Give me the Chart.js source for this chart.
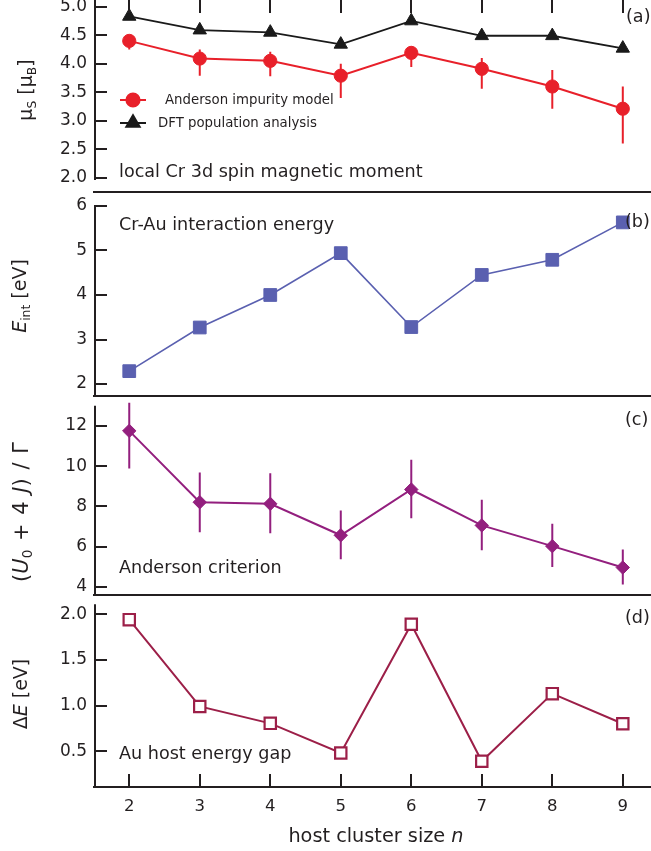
<!DOCTYPE html>
<html>
<head>
<meta charset="utf-8">
<script src="https://cdn.jsdelivr.net/npm/chart.js@4.4.1/dist/chart.umd.min.js"></script>
<style>
    body { margin: 0; width: 651px; height: 851px; background: #fff; position: relative; overflow: hidden;
           font-family: "DejaVu Sans", sans-serif; color: #231f20; }
    canvas { position: absolute; left: 0; }
    .t { position: absolute; white-space: nowrap; line-height: 1; transform: translateY(-50%); }
    .note { font-size: 17.6px; }
    .leg { font-size: 13.3px; }
    .ytitle { position: absolute; white-space: nowrap; line-height: 1; font-size: 19px;
              transform: translate(-50%, -50%) rotate(-90deg); }
    sub { font-size: 0.65em; vertical-align: -0.3em; }
</style>
</head>
<body>
<canvas id="panelA" width="651" height="232" style="top:-20px"></canvas>
<canvas id="panelB" width="651" height="243" style="top:173px"></canvas>
<canvas id="panelC" width="651" height="238" style="top:377px"></canvas>
<canvas id="panelD" width="651" height="251" style="top:576px"></canvas>

<div class="ytitle" style="left:27px; top:90px">μ<sub>S</sub> [μ<sub>B</sub>]</div>
<div class="ytitle" style="left:21px; top:296px"><i>E</i><sub>int</sub> [eV]</div>
<div class="ytitle" style="left:23px; top:512px; font-size:21px; word-spacing:2px">(<i>U</i><sub>0</sub> + 4 <i>J</i>) / Γ</div>
<div class="ytitle" style="left:20px; top:694px">Δ<i>E</i> [eV]</div>

<div class="t note" style="left:119px; top:172px">local Cr 3d spin magnetic moment</div>
<div class="t note" style="left:119px; top:225px">Cr-Au interaction energy</div>
<div class="t note" style="left:119px; top:568px">Anderson criterion</div>
<div class="t note" style="left:119px; top:754px">Au host energy gap</div>

<div class="t note" style="left:626px; top:17px">(a)</div>
<div class="t note" style="left:625px; top:222px">(b)</div>
<div class="t note" style="left:625px; top:420px">(c)</div>
<div class="t note" style="left:625px; top:618px">(d)</div>

<div class="t leg" style="left:165px; top:100px">Anderson impurity model</div>
<div class="t leg" style="left:158px; top:123px">DFT population analysis</div>

<div class="t" style="left:376px; top:836px; font-size:19.3px; transform:translate(-50%,-50%)">host cluster size <i>n</i></div>

<script>
// host cluster size n
const clusterSize = [2, 3, 4, 5, 6, 7, 8, 9];

// (a) local Cr 3d spin magnetic moment
const muAnderson     = [4.40, 4.09, 4.05, 3.79, 4.19, 3.91, 3.60, 3.21];
const muAndersonLow  = [4.25, 3.79, 3.78, 3.40, 3.94, 3.56, 3.21, 2.60];
const muAndersonHigh = [4.50, 4.25, 4.21, 4.00, 4.30, 4.10, 3.89, 3.60];
const muDFT          = [4.83, 4.59, 4.55, 4.34, 4.75, 4.49, 4.49, 4.27];

// (b) Cr-Au interaction energy
const eInt = [2.29, 3.27, 4.00, 4.94, 3.28, 4.45, 4.79, 5.63];

// (c) Anderson criterion
const criterion     = [11.75, 8.21, 8.13, 6.57, 8.84, 7.06, 6.03, 4.97];
const criterionLow  = [9.88, 6.72, 6.67, 5.38, 7.42, 5.83, 5.00, 4.13];
const criterionHigh = [13.15, 9.68, 9.65, 7.80, 10.32, 8.33, 7.14, 5.86];

// (d) Au host energy gap
const gap = [1.94, 0.99, 0.805, 0.48, 1.89, 0.39, 1.13, 0.80];

// tick labels
const ticksA = [2.0, 2.5, 3.0, 3.5, 4.0, 4.5, 5.0];
const ticksB = [2, 3, 4, 5, 6];
const ticksC = [4, 6, 8, 10, 12];
const ticksD = [0.5, 1.0, 1.5, 2.0];

const axisColor = '#231f20';
Chart.defaults.font.family = '"DejaVu Sans", sans-serif';
Chart.defaults.color = axisColor;

function pts(ys) {
    return clusterSize.map((n, i) => ({ x: n, y: ys[i] }));
}

// inward ticks, y-axis line, error bars and the legend of panel (a)
const framePlugin = {
    id: 'frame',
    beforeDatasetsDraw(chart, args, opts) {
        const ctx = chart.ctx;
        const xs = chart.scales.x, ys = chart.scales.y;
        chart.data.datasets.forEach(ds => {
            if (!ds.errLow) return;
            ctx.save();
            ctx.strokeStyle = ds.borderColor;
            ctx.lineWidth = 2;
            ctx.beginPath();
            clusterSize.forEach((n, i) => {
                const px = xs.getPixelForValue(n);
                ctx.moveTo(px, ys.getPixelForValue(ds.errLow[i]));
                ctx.lineTo(px, ys.getPixelForValue(ds.errHigh[i]));
            });
            ctx.stroke();
            ctx.restore();
        });
    },
    afterDraw(chart, args, opts) {
        const ctx = chart.ctx, area = chart.chartArea;
        const xs = chart.scales.x, ys = chart.scales.y;
        ctx.save();
        ctx.strokeStyle = axisColor;
        ctx.lineWidth = 2;
        ctx.beginPath();
        ctx.moveTo(area.left + 1, ys.getPixelForValue(opts.yFrom));
        ctx.lineTo(area.left + 1, ys.getPixelForValue(opts.yTo));
        ys.ticks.forEach(t => {
            const py = Math.round(ys.getPixelForValue(t.value));
            ctx.moveTo(area.left, py);
            ctx.lineTo(area.left + 13, py);
        });
        if (opts.topTicks || opts.bottomTicks) {
            clusterSize.forEach(n => {
                const px = Math.round(xs.getPixelForValue(n));
                if (opts.topTicks) {
                    ctx.moveTo(px, area.top);
                    ctx.lineTo(px, area.top + 13);
                }
                if (opts.bottomTicks) {
                    ctx.moveTo(px, area.bottom);
                    ctx.lineTo(px, area.bottom - 13);
                }
            });
        }
        ctx.stroke();
        if (opts.legend) {
            // legend rows, y measured from the chart area top
            opts.legend.forEach(item => {
                const ly = area.top + item.y;
                ctx.strokeStyle = item.color;
                ctx.fillStyle = item.color;
                ctx.lineWidth = 2;
                ctx.beginPath();
                ctx.moveTo(120, ly);
                ctx.lineTo(146, ly);
                ctx.stroke();
                Chart.helpers.drawPoint(ctx, { pointStyle: item.style, radius: item.radius, rotation: 0, borderWidth: 1 }, 133, ly);
            });
        }
        ctx.restore();
    }
};

// chart area always starts 20px below the canvas top
function makePanel(id, yMin, yMax, yTicks, digits, datasets, frame, xLabels, xHeight) {
    new Chart(document.getElementById(id), {
        type: 'line',
        data: { datasets: datasets },
        options: {
            responsive: false,
            animation: false,
            layout: { autoPadding: false, padding: { top: 20, left: 0, right: 0, bottom: 0 } },
            plugins: { legend: { display: false }, tooltip: { enabled: false }, frame: frame },
            scales: {
                x: {
                    type: 'linear', min: 1.5, max: 9.4,
                    afterBuildTicks: s => { s.ticks = clusterSize.map(v => ({ value: v })); },
                    afterFit: s => { s.height = xHeight; },
                    grid: { display: false, drawTicks: false },
                    border: { display: true, width: 2, color: axisColor },
                    ticks: { display: xLabels, padding: 10, font: { size: 16.5 } }
                },
                y: {
                    min: yMin, max: yMax,
                    afterBuildTicks: s => { s.ticks = yTicks.map(v => ({ value: v })); },
                    afterFit: s => { s.width = 94; },
                    grid: { display: false, drawTicks: false },
                    border: { display: false },
                    ticks: { padding: 7, font: { size: 17 }, callback: v => v.toFixed(digits) }
                }
            }
        },
        plugins: [framePlugin]
    });
}

const red = '#e8202a', black = '#1a1a1a', blue = '#5a60b0', purple = '#931f7e', crimson = '#9c1f48';

makePanel('panelA', 1.749, 5.1175, ticksA, 1, [
    { data: pts(muDFT), borderColor: black, backgroundColor: black, borderWidth: 1.8,
      pointStyle: 'triangle', pointRadius: 7.7, pointBorderWidth: 1 },
    { data: pts(muAnderson), errLow: muAndersonLow, errHigh: muAndersonHigh,
      borderColor: red, backgroundColor: red, borderWidth: 2,
      pointStyle: 'circle', pointRadius: 6.6, pointBorderWidth: 1 }
], { yFrom: 5.2, yTo: 1.96, topTicks: true,
     legend: [ { y: 100, color: red, style: 'circle', radius: 6.6 },
               { y: 123, color: black, style: 'triangle', radius: 7.7 } ] }, false, 20);

makePanel('panelB', 1.732, 6.29, ticksB, 0, [
    { data: pts(eInt), borderColor: blue, backgroundColor: blue, borderWidth: 1.6,
      pointStyle: 'rect', pointRadius: 9, pointBorderWidth: 1 }
], { yFrom: 6.0, yTo: 1.732 }, false, 20);

makePanel('panelC', 3.606, 13.43, ticksC, 0, [
    { data: pts(criterion), errLow: criterionLow, errHigh: criterionHigh,
      borderColor: purple, backgroundColor: purple, borderWidth: 2,
      pointStyle: 'rectRot', pointRadius: 6.7, pointBorderWidth: 1 }
], { yFrom: 13.0, yTo: 3.606 }, false, 20);

makePanel('panelD', 0.108, 2.199, ticksD, 1, [
    { data: pts(gap), borderColor: crimson, backgroundColor: '#fff', borderWidth: 2,
      pointStyle: 'rect', pointRadius: 8, pointBorderWidth: 2.2 }
], { yFrom: 2.11, yTo: 0.108, bottomTicks: true }, true, 40);
</script>
</body>
</html>
